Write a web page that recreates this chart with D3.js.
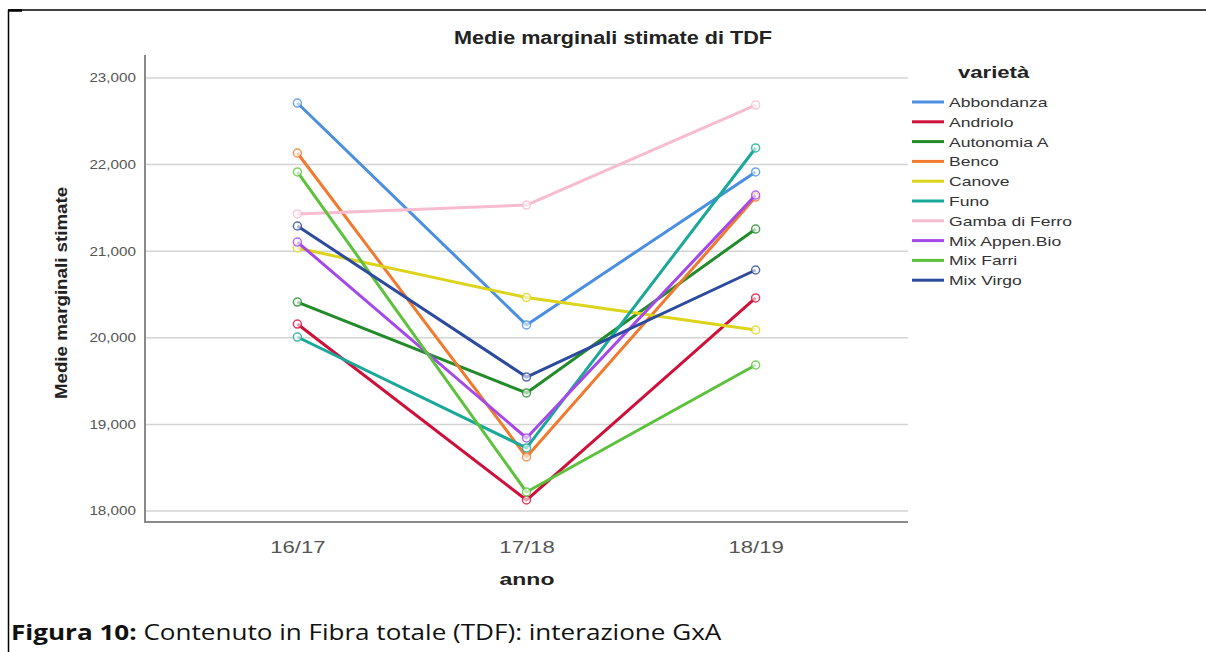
<!DOCTYPE html>
<html>
<head>
<meta charset="utf-8">
<script src="https://cdn.jsdelivr.net/npm/d3@7"></script>
<style>
  body { margin: 0; background: #fff; }
  svg { display: block; }
  .grid line { stroke: #d4d4d4; stroke-width: 1.5; }
  .y.axis text { font-family: "Liberation Sans", Arial, sans-serif; font-size: 12px; fill: #555; }
  .x.axis text { font-family: "Liberation Sans", Arial, sans-serif; font-size: 17px; fill: #555; }
</style>
</head>
<body>
<div id="stage_id"></div>
<script>
// anni (asse x)
var anni = ["16/17", "17/18", "18/19"];

// varieta' (serie)
var varieta = ["Abbondanza", "Andriolo", "Autonomia A", "Benco", "Canove",
               "Funo", "Gamba di Ferro", "Mix Appen.Bio", "Mix Farri", "Mix Virgo"];

// medie marginali stimate, una riga per varieta', ordine come anni
var abbondanza   = [22711, 20148, 21915];
var andriolo     = [20159, 18127, 20460];
var autonomiaA   = [20413, 19363, 21256];
var benco        = [22134, 18624, 21625];
var canove       = [21037, 20465, 20090];
var funo         = [20009, 18728, 22192];
var gambaDiFerro = [21430, 21533, 22688];
var mixAppenBio  = [21106, 18843, 21649];
var mixFarri     = [21915, 18219, 19686];
var mixVirgo     = [21291, 19547, 20783];

var colori = ["#4a8fe0", "#d0103a", "#228b2a", "#f07a2e", "#dcd41a",
              "#19a89a", "#f7bcd0", "#a548ea", "#5cc23c", "#2c4a9e"];

var yTicks = [18000, 19000, 20000, 21000, 22000, 23000];

var valori = [abbondanza, andriolo, autonomiaA, benco, canove,
              funo, gambaDiFerro, mixAppenBio, mixFarri, mixVirgo];

var serie = varieta.map(function(nome, i){
  return { nome: nome, colore: colori[i],
           punti: anni.map(function(a, j){ return { anno: a, v: valori[i][j] }; }) };
});

var W = 1206, H = 652;
var plot = { left: 145, right: 908, top: 55, bottom: 522 };

// il grafico originale e' un po' "allargato" in orizzontale
function stretch(sel, sx){
  sel.each(function(){
    var w = this.getComputedTextLength();
    d3.select(this).attr("textLength", w * sx).attr("lengthAdjust", "spacingAndGlyphs");
  });
}

var svg = d3.select("#stage_id").append("svg")
  .attr("width", W).attr("height", H);

// cornice della figura
svg.append("line").attr("x1", 8).attr("x2", W).attr("y1", 10).attr("y2", 10)
  .attr("stroke", "#000").attr("stroke-width", 1.5);
svg.append("line").attr("x1", 8.5).attr("x2", 8.5).attr("y1", 10).attr("y2", H)
  .attr("stroke", "#000").attr("stroke-width", 1.5);
svg.append("line").attr("x1", 8).attr("x2", 22).attr("y1", 10.5).attr("y2", 10.5)
  .attr("stroke", "#000").attr("stroke-width", 2.5);

var xScale = d3.scalePoint()
  .domain(anni)
  .range([plot.left, plot.right])
  .padding(0.665);

var yScale = d3.scaleLinear()
  .domain([18000, 23000])
  .range([511, 78]);

// griglia
svg.append("g").attr("class", "grid")
  .selectAll("line").data(yTicks).enter().append("line")
  .attr("x1", plot.left).attr("x2", plot.right)
  .attr("y1", function(d){ return yScale(d); })
  .attr("y2", function(d){ return yScale(d); });

// assi
var yAxis = d3.axisLeft(yScale)
  .tickValues(yTicks)
  .tickFormat(d3.format(","))
  .tickSize(0)
  .tickPadding(9);

var gY = svg.append("g").attr("class", "y axis")
  .attr("transform", "translate(" + plot.left + ",0)")
  .call(yAxis);
gY.select(".domain").remove();
stretch(gY.selectAll("text"), 1.27);

var xAxis = d3.axisBottom(xScale).tickSize(0).tickPadding(19);
var gX = svg.append("g").attr("class", "x axis")
  .attr("transform", "translate(0," + plot.bottom + ")")
  .call(xAxis);
gX.select(".domain").remove();
stretch(gX.selectAll("text"), 1.3);

svg.append("line")
  .attr("x1", plot.left).attr("x2", plot.left)
  .attr("y1", plot.top).attr("y2", plot.bottom + 1)
  .attr("stroke", "#8a8a8a").attr("stroke-width", 2);
svg.append("line")
  .attr("x1", plot.left - 1).attr("x2", plot.right)
  .attr("y1", plot.bottom).attr("y2", plot.bottom)
  .attr("stroke", "#8a8a8a").attr("stroke-width", 2);

// linee
var line = d3.line()
  .x(function(d){ return xScale(d.anno); })
  .y(function(d){ return yScale(d.v); });

var gS = svg.selectAll(".serie").data(serie).enter().append("g").attr("class", "serie");

gS.append("path")
  .attr("d", function(d){ return line(d.punti); })
  .attr("fill", "none")
  .attr("stroke", function(d){ return d.colore; })
  .attr("stroke-width", 3)
  .attr("stroke-linejoin", "round");

gS.selectAll("circle")
  .data(function(d){ return d.punti.map(function(p){ return { p: p, c: d.colore }; }); })
  .enter().append("circle")
  .attr("cx", function(d){ return xScale(d.p.anno); })
  .attr("cy", function(d){ return yScale(d.p.v); })
  .attr("r", 4)
  .attr("fill", "#fff").attr("fill-opacity", 0.6)
  .attr("stroke", function(d){ return d.c; })
  .attr("stroke-width", 1.5)
  .attr("stroke-opacity", 0.8);

// titoli
var titolo = svg.append("text")
  .attr("x", 613).attr("y", 44)
  .attr("text-anchor", "middle")
  .style("font-family", "Liberation Sans, Arial, sans-serif")
  .style("font-size", "18px").style("font-weight", "bold").style("fill", "#222")
  .text("Medie marginali stimate di TDF");
stretch(titolo, 1.2);

var yTitolo = svg.append("text")
  .attr("transform", "translate(67,293) rotate(-90)")
  .attr("text-anchor", "middle")
  .style("font-family", "Liberation Sans, Arial, sans-serif")
  .style("font-size", "16px").style("font-weight", "bold").style("fill", "#222")
  .text("Medie marginali stimate");
stretch(yTitolo, 1.17);

var xTitolo = svg.append("text")
  .attr("x", 527).attr("y", 585)
  .attr("text-anchor", "middle")
  .style("font-family", "Liberation Sans, Arial, sans-serif")
  .style("font-size", "17px").style("font-weight", "bold").style("fill", "#222")
  .text("anno");
stretch(xTitolo, 1.35);

// legenda
var leg = svg.append("g").attr("transform", "translate(912,0)");
var legTitolo = leg.append("text")
  .attr("x", 46).attr("y", 78)
  .style("font-family", "Liberation Sans, Arial, sans-serif")
  .style("font-size", "17px").style("font-weight", "bold").style("fill", "#222")
  .text("varietà");
stretch(legTitolo, 1.3);

var item = leg.selectAll(".item").data(serie).enter().append("g")
  .attr("class", "item")
  .attr("transform", function(d, i){ return "translate(0," + (102 + i * 19.8) + ")"; });
item.append("line")
  .attr("x1", 0).attr("x2", 32)
  .attr("stroke", function(d){ return d.colore; })
  .attr("stroke-width", 3);
var legTesti = item.append("text")
  .attr("x", 37).attr("y", 5)
  .style("font-family", "Liberation Sans, Arial, sans-serif")
  .style("font-size", "13.5px").style("fill", "#333")
  .text(function(d){ return d.nome; });
stretch(legTesti, 1.3);

// didascalia
var capG = svg.append("g");
var cap = capG.append("text")
  .attr("x", 0).attr("y", 0)
  .style("font-family", "Open Sans, sans-serif")
  .style("font-size", "21px").style("fill", "#111");
cap.append("tspan").style("font-weight", "bold").text("Figura 10:");
cap.append("tspan").text(" Contenuto in Fibra totale (TDF): interazione GxA");
var capW = cap.node().getComputedTextLength();
capG.attr("transform", "translate(11,640) scale(" + (711 / capW) + ",1)");
</script>
</body>
</html>
